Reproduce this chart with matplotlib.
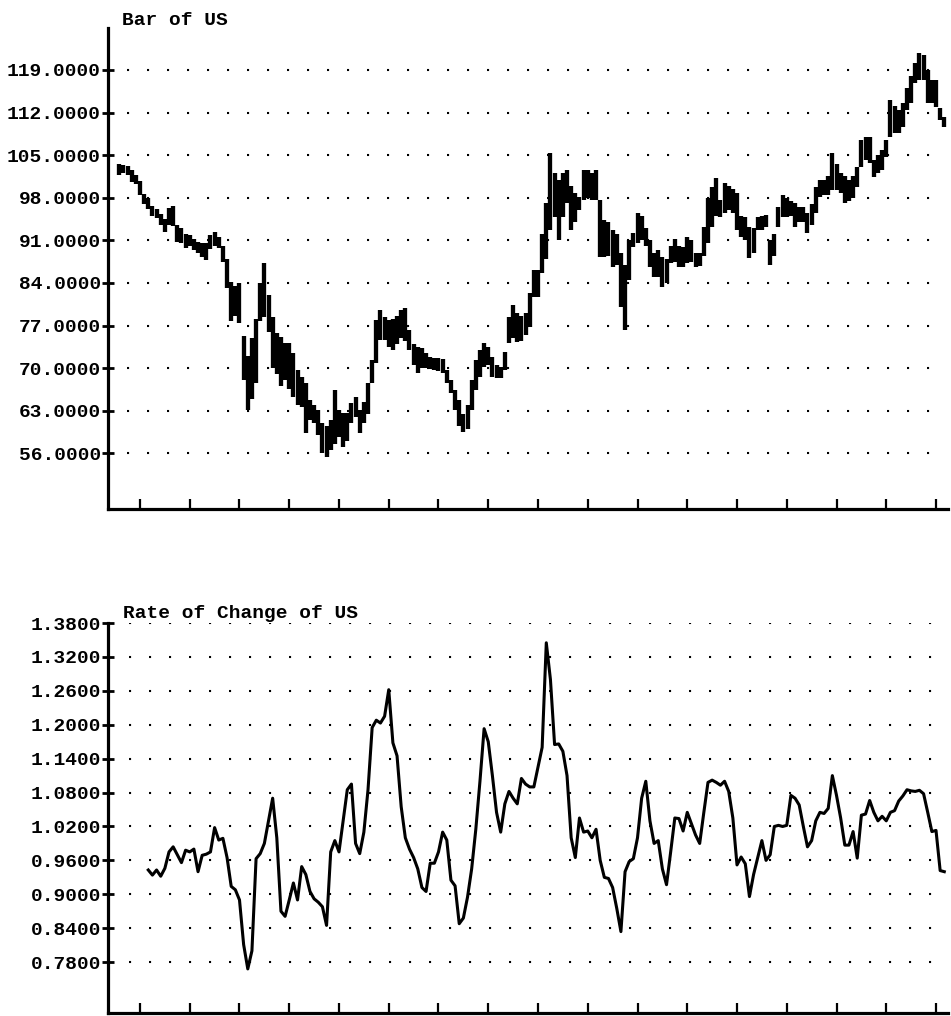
import numpy as np
import pandas as pd
import matplotlib
matplotlib.use("Agg")
import matplotlib.pyplot as plt

# monthly bars, Aug 1977 .. Mar 1994
highs = [
    103.6, 103.4, 103.2, 102.6, 101.8,
    100.8, 98.6, 98.0, 96.6, 96.2, 95.3, 94.5, 96.3, 96.6, 93.6, 93.0, 92.0,
    91.9, 91.2, 90.8, 90.5, 90.6, 91.8, 92.4, 91.5, 90.0, 88.0, 84.2, 83.5,
    84.0, 75.2, 72.0, 75.0, 78.0, 84.0, 87.3, 82.0, 78.4, 75.8, 75.1, 74.1,
    74.1, 72.5, 69.7, 68.5, 67.6, 64.8, 64.0, 63.1, 61.0, 60.5, 61.5, 66.4,
    63.1, 62.6, 62.6, 64.3, 65.3, 63.1, 64.5, 67.6, 71.3, 77.9, 79.6, 78.4,
    77.9, 78.0, 78.5, 79.5, 79.9, 76.3, 74.0, 73.5, 73.3, 72.5, 71.8, 71.6,
    71.6, 71.5, 69.7, 68.0, 66.4, 64.8, 62.5, 64.0, 68.1, 71.3, 73.0, 74.1,
    73.5, 71.8, 70.5, 70.2, 72.7, 78.4, 80.4, 79.0, 78.5, 79.0, 82.3, 86.1,
    86.1, 92.0, 97.1, 105.4, 102.1, 101.0, 102.1, 102.6, 100.0, 98.8, 98.1, 102.6,
    102.6, 102.0, 102.6, 97.6, 94.4, 94.0, 92.7, 92.0, 89.0, 87.0, 91.0, 92.2,
    95.5, 95.0, 93.0, 91.0, 89.0, 89.4, 88.3, 88.0, 90.0, 91.3, 90.0, 89.9,
    91.6, 91.0, 89.0, 89.0, 93.2, 98.0, 99.8, 101.3, 97.6, 100.4, 100.0, 99.5,
    98.8, 95.0, 94.9, 93.2, 93.0, 94.9, 95.0, 95.2, 91.0, 92.0, 96.5, 98.5,
    98.0, 97.5, 97.1, 96.5, 96.5, 95.5, 97.0, 99.8, 101.0, 101.0, 101.5, 105.4,
    103.5, 102.1, 101.5, 101.0, 101.5, 103.0, 107.5, 108.0, 108.0, 104.2, 105.0, 105.9,
    107.5, 114.0, 113.0, 112.4, 113.6, 116.0, 118.0, 120.2, 121.8, 121.5, 119.0, 117.4,
    117.4, 112.8, 111.3,
]
lows = [
    101.8, 102.1, 101.8, 100.6, 100.2,
    98.5, 97.0, 96.2, 95.0, 94.6, 93.6, 92.4, 93.5, 93.3, 90.8, 90.5, 89.8,
    90.0, 89.4, 89.0, 88.2, 87.8, 89.5, 90.0, 89.7, 87.4, 83.2, 77.8, 78.5,
    77.5, 68.0, 63.1, 65.0, 67.6, 77.8, 78.4, 76.0, 70.0, 69.0, 67.0, 68.0,
    66.5, 65.3, 64.0, 63.6, 59.4, 61.5, 61.0, 59.0, 56.0, 55.4, 56.5, 57.5,
    58.7, 57.1, 58.0, 61.0, 62.0, 59.4, 61.0, 62.5, 67.6, 70.8, 74.6, 74.6,
    73.5, 73.0, 74.0, 75.0, 74.5, 73.0, 70.5, 69.2, 70.0, 70.0, 69.8, 69.7,
    69.5, 69.2, 67.5, 65.9, 63.1, 60.5, 59.5, 60.0, 63.1, 66.4, 68.5, 70.2,
    70.5, 68.6, 68.4, 68.4, 69.7, 74.1, 75.0, 74.3, 74.5, 75.5, 76.8, 81.7,
    81.7, 85.6, 88.0, 92.7, 94.9, 91.0, 94.9, 97.1, 92.7, 94.0, 96.0, 97.6,
    98.0, 97.6, 97.6, 88.3, 88.3, 88.5, 86.6, 87.0, 80.0, 76.3, 84.5, 89.9,
    90.5, 91.0, 90.0, 86.6, 85.0, 85.0, 83.3, 84.0, 87.3, 87.5, 86.6, 86.6,
    87.3, 87.5, 86.6, 86.8, 88.5, 90.5, 93.2, 95.0, 94.9, 95.5, 96.0, 95.5,
    92.7, 91.5, 91.0, 88.1, 89.0, 92.7, 92.7, 93.2, 87.0, 88.5, 93.2, 94.9,
    94.9, 95.0, 93.2, 94.0, 94.0, 92.2, 93.5, 95.5, 98.1, 98.5, 98.5, 99.3,
    99.3, 98.8, 97.1, 97.5, 98.0, 99.8, 103.0, 104.2, 103.7, 101.4, 102.0, 102.6,
    104.7, 108.0, 108.6, 108.6, 109.6, 112.4, 113.5, 116.9, 117.4, 117.4, 113.6, 113.6,
    112.9, 110.8, 109.6,
]

# rate of change, Mar 1978 .. Mar 1994
roc = [
    0.943, 0.934, 0.943, 0.932, 0.946, 0.975, 0.984, 0.970, 0.956, 0.978,
    0.975, 0.980, 0.940, 0.969, 0.971, 0.975, 1.018, 0.996, 0.999, 0.965, 0.914, 0.908,
    0.890, 0.811, 0.768, 0.800, 0.963, 0.972, 0.990, 1.030, 1.070, 1.000, 0.870, 0.861,
    0.890, 0.920, 0.890, 0.949, 0.935, 0.905, 0.892, 0.886, 0.878, 0.845, 0.975, 0.995,
    0.975, 1.030, 1.085, 1.095, 0.990, 0.972, 1.010, 1.085, 1.195, 1.208, 1.203, 1.215,
    1.262, 1.168, 1.145, 1.055, 1.000, 0.980, 0.965, 0.945, 0.912, 0.905, 0.955, 0.955,
    0.975, 1.010, 0.996, 0.925, 0.915, 0.848, 0.858, 0.895, 0.945, 1.015, 1.100, 1.193,
    1.170, 1.110, 1.045, 1.010, 1.060, 1.082, 1.070, 1.060, 1.105, 1.095, 1.090, 1.090,
    1.125, 1.160, 1.345, 1.280, 1.165, 1.166, 1.153, 1.110, 1.000, 0.965, 1.035, 1.010,
    1.012, 1.000, 1.015, 0.960, 0.930, 0.928, 0.912, 0.875, 0.834, 0.940, 0.958, 0.963,
    1.000, 1.070, 1.100, 1.030, 0.990, 0.995, 0.945, 0.917, 0.975, 1.035, 1.034, 1.012,
    1.045, 1.025, 1.005, 0.990, 1.045, 1.098, 1.102, 1.098, 1.093, 1.100, 1.082, 1.035,
    0.952, 0.966, 0.954, 0.896, 0.935, 0.965, 0.995, 0.960, 0.970, 1.020, 1.022, 1.020,
    1.022, 1.075, 1.070, 1.058, 1.020, 0.984, 0.995, 1.030, 1.045, 1.043, 1.052, 1.110,
    1.075, 1.035, 0.987, 0.987, 1.011, 0.964, 1.040, 1.042, 1.066, 1.045, 1.030, 1.038,
    1.030, 1.045, 1.048, 1.065, 1.074, 1.085, 1.083, 1.082, 1.084, 1.078, 1.045, 1.011,
    1.013, 0.942, 0.940,
]

bar_ticks = [56, 63, 70, 77, 84, 91, 98, 105, 112, 119]
roc_ticks = [0.78, 0.84, 0.90, 0.96, 1.02, 1.08, 1.14, 1.20, 1.26, 1.32, 1.38]
years = list(range(1978, 1995))


def frac_year(dates):
    return dates.year + (dates.month - 1) / 12.0


bar_x = frac_year(pd.date_range("1977-08-01", periods=len(highs), freq="MS"))
roc_x = frac_year(pd.date_range("1978-03-01", periods=len(roc), freq="MS"))

mono = ["Liberation Mono", "DejaVu Sans Mono"]
W, H = 951, 1016
fig = plt.figure(figsize=(W / 100, H / 100), dpi=100)

ax1 = fig.add_axes([108 / W, 1 - 509 / H, 840 / W, 481 / H])
ax2 = fig.add_axes([108 / W, 1 - 1013 / H, 840 / W, 390 / H])


def style(ax, yticks, ylim, grid_start):
    ax.set_xlim(1977.357, 1994.241)
    ax.set_ylim(*ylim)
    for s in ["top", "right"]:
        ax.spines[s].set_visible(False)
    for s in ["left", "bottom"]:
        ax.spines[s].set_linewidth(2.3)
    ax.set_xticks(years)
    ax.set_xticklabels([])
    ax.tick_params(axis="x", direction="in", length=7.5, width=1.6)
    ax.set_yticks(yticks)
    ax.set_yticklabels(["%.4f" % v for v in yticks], fontfamily=mono,
                       fontsize=14, fontweight="bold")
    ax.tick_params(axis="y", direction="inout", length=8, width=2, pad=1)
    for v in yticks:
        ax.axhline(v, xmin=grid_start, xmax=(932 - 108) / 840, color="black",
                   lw=1.5, linestyle=(0, (1, 8.6)), zorder=1)


style(ax1, bar_ticks, (46.85, 125.9), (127 - 108) / 840)
style(ax2, roc_ticks, (0.69, 1.38), (129 - 108) / 840)

# bars drawn wide enough that neighbouring months touch, like the dense original
ax1.vlines(bar_x, lows, highs, color="black", lw=3.1, zorder=3)
ax2.plot(roc_x, roc, color="black", lw=2.2, zorder=3)

fig.text(122 / W, 1 - 25 / H, "Bar of US", fontfamily=mono, fontsize=14,
         fontweight="bold", va="baseline", ha="left")
fig.text(123 / W, 1 - 618 / H, "Rate of Change of US", fontfamily=mono,
         fontsize=14, fontweight="bold", va="baseline", ha="left")

fig.savefig("out.png", dpi=100, facecolor="white")
